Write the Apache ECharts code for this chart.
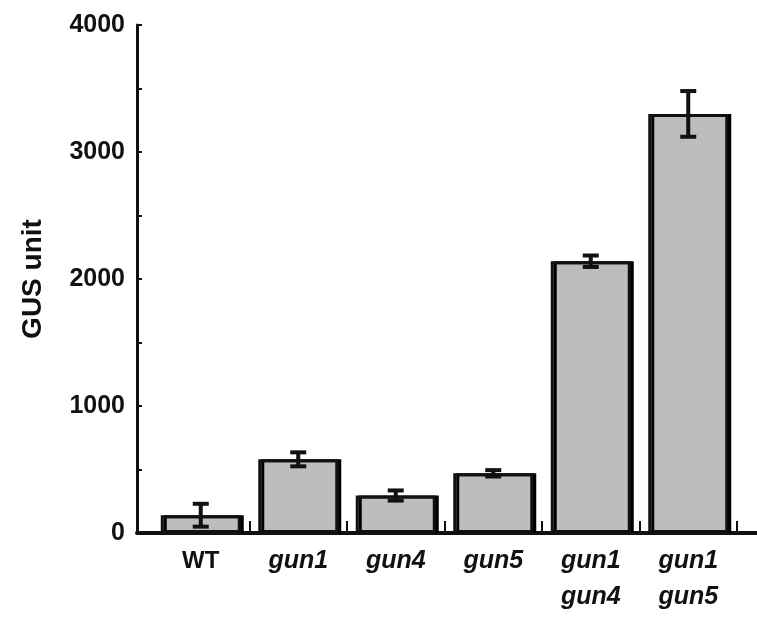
<!DOCTYPE html>
<html>
<head>
<meta charset="utf-8">
<script src="https://cdn.jsdelivr.net/npm/echarts@6/dist/echarts.min.js"></script>
<style>
  html, body { margin: 0; padding: 0; background: #fff; }
  #chart { width: 757px; height: 618px; }
</style>
</head>
<body>
<div id="chart"></div>
<script>
const categories = ['WT', 'gun1', 'gun4', 'gun5', 'gun1\ngun4', 'gun1\ngun5']
const gusValues = [140, 580, 295, 470, 2140, 3300]
const gusErrors = [90, 55, 40, 25, 45, 180]
const yTicks = [0, 1000, 2000, 3000, 4000]

const FONT = 'Liberation Sans'
const chart = echarts.init(document.getElementById('chart'))

const errorData = gusValues.map((v, i) => [i, v - gusErrors[i], v + gusErrors[i]])

const options = {
  animation: false,
  textStyle: { fontFamily: FONT },
  grid: [
    { left: 152, right: 20, top: 25, bottom: 85 },
    { left: 137, right: 0, top: 25, bottom: 85 }
  ],
  xAxis: [
    {
      type: 'category',
      gridIndex: 0,
      data: categories,
      axisLine: { show: false },
      axisTick: {
        show: true,
        inside: true,
        length: 12,
        interval: (i) => i > 0,
        lineStyle: { color: '#111', width: 2 }
      },
      axisLabel: {
        margin: 10,
        interval: 0,
        formatter (val) {
          const style = val === 'WT' ? 'n' : 'i'
          return val.split('\n').map(l => `{${style}|${l}}`).join('\n')
        },
        rich: {
          n: { fontSize: 24, fontWeight: 'bold', color: '#111', fontFamily: FONT, lineHeight: 36 },
          i: { fontSize: 25, fontWeight: 'bold', fontStyle: 'italic', color: '#111', fontFamily: FONT, lineHeight: 36 }
        }
      }
    },
    {
      type: 'value',
      gridIndex: 1,
      min: 0,
      max: 1,
      axisLine: { show: true, lineStyle: { color: '#111', width: 4 } },
      axisTick: { show: false },
      axisLabel: { show: false },
      splitLine: { show: false }
    }
  ],
  yAxis: [
    {
      type: 'value',
      gridIndex: 0,
      min: 0,
      max: 4000,
      show: false
    },
    {
      type: 'value',
      gridIndex: 1,
      min: yTicks[0],
      max: yTicks[yTicks.length - 1],
      interval: 1000,
      name: 'GUS unit',
      nameLocation: 'middle',
      nameRotate: 90,
      nameGap: 90,
      nameTextStyle: { fontSize: 28, fontWeight: 'bold', color: '#111', fontFamily: FONT },
      axisLine: { show: true, lineStyle: { color: '#111', width: 3 } },
      axisTick: { show: true, inside: true, length: 5, lineStyle: { color: '#111', width: 2 } },
      minorTick: { show: true, splitNumber: 2, length: 5, lineStyle: { color: '#111', width: 2 } },
      axisLabel: {
        margin: 12,
        fontSize: 25,
        fontWeight: 'bold',
        color: '#111',
        fontFamily: FONT,
        formatter: (v) => String(v)
      },
      splitLine: { show: false }
    }
  ],
  series: [
    {
      type: 'bar',
      xAxisIndex: 0,
      yAxisIndex: 0,
      data: gusValues,
      barWidth: 80,
      itemStyle: {
        color: '#bdbdbd',
        borderColor: '#111',
        borderWidth: 3,
        shadowColor: '#000',
        shadowOffsetX: 3,
        shadowBlur: 0
      },
      z: 2
    },
    {
      type: 'custom',
      xAxisIndex: 0,
      yAxisIndex: 0,
      data: errorData,
      z: 5,
      renderItem (params, api) {
        const x = api.value(0)
        const lo = api.coord([x, api.value(1)])
        const hi = api.coord([x, api.value(2)])
        const hw = 8
        const style = { stroke: '#111', lineWidth: 4 }
        return {
          type: 'group',
          children: [
            { type: 'line', shape: { x1: lo[0], y1: lo[1], x2: hi[0], y2: hi[1] }, style },
            { type: 'line', shape: { x1: hi[0] - hw, y1: hi[1], x2: hi[0] + hw, y2: hi[1] }, style },
            { type: 'line', shape: { x1: lo[0] - hw, y1: lo[1], x2: lo[0] + hw, y2: lo[1] }, style }
          ]
        }
      }
    }
  ]
}

chart.setOption(options)
</script>
</body>
</html>
